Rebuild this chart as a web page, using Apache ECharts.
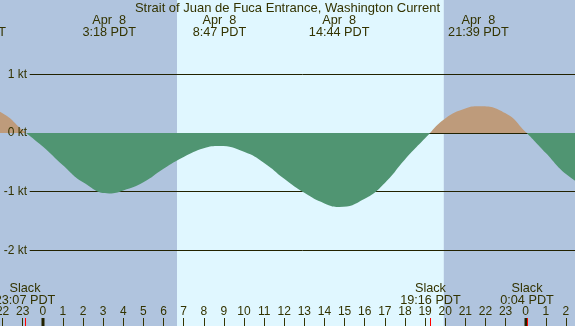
<!DOCTYPE html>
<html>
<head>
<meta charset="utf-8">
<script src="https://cdn.jsdelivr.net/npm/echarts@6/dist/echarts.min.js"></script>
<style>
  html, body { margin: 0; padding: 0; }
  #main { width: 575px; height: 326px; }
</style>
</head>
<body>
<div id="main"></div>
<script>
// hours counted from Apr 8 00:00 PDT, current in knots (+ flood, - ebb)
var hours = [-3, -2, -1, 0, 1, 2, 3.3, 4, 5, 6, 7, 8, 8.78, 10, 11, 12, 13, 14, 14.73, 16, 17, 18, 19, 20, 21, 21.65, 23, 24, 25, 26, 27];
var knots = [0.44, 0.34, 0.05, -0.23, -0.55, -0.84, -1.03, -0.98, -0.84, -0.61, -0.41, -0.26, -0.22, -0.32, -0.51, -0.78, -1.02, -1.20, -1.26, -1.12, -0.85, -0.45, -0.09, 0.25, 0.42, 0.46, 0.34, 0.02, -0.34, -0.70, -0.92];

var hourTicks = [-2, -1, 0, 1, 2, 3, 4, 5, 6, 7, 8, 9, 10, 11, 12, 13, 14, 15, 16, 17, 18, 19, 20, 21, 22, 23, 24, 25, 26];
var levels = [1, 0, -1, -2];

// max current events
var peakHours = [-3.33, 3.30, 8.78, 14.73, 21.65];
var peakLabels = ['Apr  7\n20:40 PDT', 'Apr  8\n3:18 PDT', 'Apr  8\n8:47 PDT', 'Apr  8\n14:44 PDT', 'Apr  8\n21:39 PDT'];

// slack water events
var slackHours = [-0.883, 19.267, 24.067];
var slackLabels = ['Slack\n23:07 PDT', 'Slack\n19:16 PDT', 'Slack\n0:04 PDT'];

var sunrise = 6.67;
var sunset = 19.93;

var title = 'Strait of Juan de Fuca Entrance, Washington Current';

var xMin = -2.127, xMax = 26.451;
var yMin = -3.293, yMax = 2.272;

var font = '"Liberation Sans", Arial, sans-serif';
var ink = '#333300';
var nightColor = '#b0c4de';
var dayColor = '#e0f7ff';
var ebbColor = '#509572';
var floodColor = '#be9b7b';

var myChart = echarts.init(document.getElementById('main'));

var option = {
  animation: false,
  grid: {
    left: 0, right: 0, top: 0, bottom: 0,
    containLabel: false, outerBoundsMode: 'none',
    show: true, backgroundColor: dayColor, borderWidth: 0
  },
  xAxis: {
    type: 'value', min: xMin, max: xMax, z: 10,
    axisLine: { show: false, onZero: false },
    splitLine: { show: false },
    axisTick: { inside: true, length: 8, customValues: hourTicks, lineStyle: { color: ink, width: 1 } },
    axisLabel: {
      inside: true, margin: 8, color: ink, fontSize: 12, fontFamily: font, lineHeight: 12,
      customValues: hourTicks, showMinLabel: true, showMaxLabel: true, hideOverlap: false,
      formatter: function (v) { return String(((v % 24) + 24) % 24); }
    }
  },
  yAxis: {
    type: 'value', min: yMin, max: yMax, z: 10,
    axisLine: { show: false, onZero: false },
    axisTick: { show: false },
    splitLine: { show: false },
    axisLabel: {
      inside: true, margin: 27, align: 'right', color: ink, fontSize: 12, fontFamily: font,
      customValues: levels, showMinLabel: true, showMaxLabel: true, hideOverlap: false,
      formatter: function (v) { return v + ' kt'; }
    }
  },
  visualMap: {
    show: false, dimension: 1, seriesIndex: 1,
    pieces: [
      { gte: -10, lt: 0, color: ebbColor },
      { gte: 0, lte: 10, color: floodColor }
    ]
  },
  series: [
    {
      type: 'line', data: [[xMin, 0]], silent: true, z: 1, showSymbol: false,
      lineStyle: { width: 0 },
      markArea: {
        silent: true, z: 1,
        itemStyle: { color: nightColor },
        data: [
          [{ xAxis: xMin }, { xAxis: sunrise }],
          [{ xAxis: sunset }, { xAxis: xMax }]
        ]
      },
      markLine: {
        silent: true, symbol: 'none', z: 2,
        lineStyle: { color: '#222200', width: 1, type: 'solid' },
        label: { show: false },
        data: levels.map(function (l) {
          return [{ coord: [-0.65, l] }, { coord: [xMax, l] }];
        })
      }
    },
    {
      type: 'line', z: 3, smooth: true, showSymbol: false, silent: true,
      lineStyle: { width: 0 },
      areaStyle: { opacity: 1 },
      data: hours.map(function (h, i) { return [h, knots[i]]; })
    }
  ]
};

myChart.setOption(option);

// labels and tick marks placed through the chart's x scale
function px(h) { return myChart.convertToPixel({ xAxisIndex: 0 }, h); }

var graphics = [];
graphics.push({
  type: 'text', x: 287.5, y: 2, z: 20,
  style: { text: title, font: '13px ' + font, fill: ink, align: 'center', verticalAlign: 'top', lineHeight: 13 }
});
peakHours.forEach(function (h, i) {
  graphics.push({
    type: 'text', x: px(h), y: 14.5, z: 20,
    style: { text: peakLabels[i], font: '12.7px ' + font, fill: ink, align: 'center', verticalAlign: 'top', lineHeight: 12 }
  });
});
slackHours.forEach(function (h, i) {
  graphics.push({
    type: 'text', x: px(h), y: 282, z: 20,
    style: { text: slackLabels[i], font: '12.7px ' + font, fill: ink, align: 'center', verticalAlign: 'top', lineHeight: 12 }
  });
});
[0, 24].forEach(function (h) {
  graphics.push({
    type: 'rect', z: 20, shape: { x: Math.round(px(h)) - 1.5, y: 318, width: 3, height: 8 },
    style: { fill: '#222200' }
  });
});
slackHours.forEach(function (h) {
  var x = Math.round(px(h)) + 0.5;
  graphics.push({
    type: 'line', z: 21, shape: { x1: x, y1: 318, x2: x, y2: 326 },
    style: { stroke: '#ff0000', lineWidth: 1 }
  });
});

myChart.setOption({ graphic: graphics });
</script>
</body>
</html>
